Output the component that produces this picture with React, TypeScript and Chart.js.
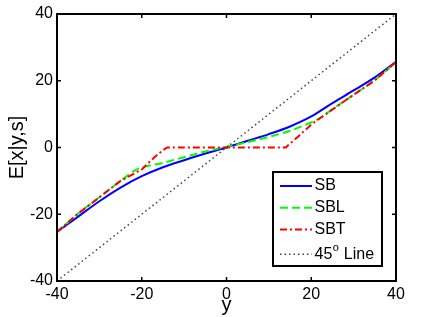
import { useEffect, useRef } from 'react';
import { Chart, registerables } from 'chart.js';

Chart.register(...registerables);

const FONT = "'Liberation Sans', Arial, Helvetica, sans-serif";

// ---- data ----
const axisTicks = [-40, -20, 0, 20, 40];
const xTickLabels = ['-40', '-20', '0', '20', '40'];
const yTickLabels = ['-40', '-20', '0', '20', '40'];
const xTitle = 'y';
const yTitle = 'E[x|y,s]';

const seriesLabels = ['SB', 'SBL', 'SBT', '45^o Line'];

const sbX = [-40, -35, -30, -25, -20, -15, -10, -5, 0, 5, 10, 15, 20, 25, 30, 35, 40];
const sbY = [-25.3, -20.7, -16.1, -12.0, -8.6, -5.9, -3.8, -1.8, 0, 2.0, 4.0, 6.3, 9.3, 13.3, 17.1, 21.0, 25.7];

const sblX = [-40, -35, -30, -25, -21, -15, -10, -5, 0, 5, 10, 15, 19, 22, 25, 30, 35, 40];
const sblY = [-25.3, -19.8, -14.9, -10.0, -6.5, -4.6, -2.9, -1.2, 0.2, 1.6, 3.2, 5.0, 7.0, 8.8, 11.5, 15.8, 20.2, 25.6];

const sbtX = [-40, -35, -30, -25, -20, -17, -15, -14, 14, 15, 17, 20, 25, 30, 35, 40];
const sbtY = [-25.3, -19.8, -14.9, -10.0, -6.6, -2.9, -0.8, 0, 0, 1.2, 3.4, 6.9, 11.4, 15.8, 20.1, 25.6];

const diagX = [-40, 40];
const diagY = [-40, 40];

const toPts = (xs: number[], ys: number[]) => xs.map((x, i) => ({ x, y: ys[i] }));

const tickLabel = (labels: string[]) => (v: any) => {
  const i = axisTicks.indexOf(Number(v));
  return i >= 0 ? labels[i] : '';
};

const framePlugin = {
  id: 'matlabFrame',
  afterDatasetsDraw(chart: any) {
    const { ctx, chartArea: a, scales } = chart;
    ctx.save();
    ctx.strokeStyle = '#000';
    ctx.setLineDash([]);
    // inward ticks
    ctx.lineWidth = 1.5;
    const tl = 4;
    ctx.beginPath();
    for (const t of scales.x.ticks) {
      const px = scales.x.getPixelForValue(t.value);
      ctx.moveTo(px, a.bottom);
      ctx.lineTo(px, a.bottom - tl);
      ctx.moveTo(px, a.top);
      ctx.lineTo(px, a.top + tl);
    }
    for (const t of scales.y.ticks) {
      const py = scales.y.getPixelForValue(t.value);
      ctx.moveTo(a.left, py);
      ctx.lineTo(a.left + tl, py);
      ctx.moveTo(a.right, py);
      ctx.lineTo(a.right - tl, py);
    }
    ctx.stroke();
    // box
    ctx.lineWidth = 2;
    ctx.strokeRect(a.left, a.top, a.right - a.left, a.bottom - a.top);

    // legend
    const fontMain = `16px ${FONT}`;
    const fontSup = `11px ${FONT}`;
    const parsed = chart.data.datasets.map((ds: any) => {
      const m = /^(.*)\^(\w)(.*)$/.exec(ds.label);
      return m ? { pre: m[1], sup: m[2], post: m[3] } : { pre: ds.label, sup: '', post: '' };
    });
    const widthOf = (p: any) => {
      ctx.font = fontMain;
      let w = ctx.measureText(p.pre).width + ctx.measureText(p.post).width;
      if (p.sup) {
        ctx.font = fontSup;
        w += ctx.measureText(p.sup).width + 1;
      }
      return w;
    };
    const textW = Math.max(...parsed.map(widthOf));
    const padL = 7, sample = 32, gap = 2.5, padR = 8;
    const boxW = Math.round(padL + sample + gap + textW + padR);
    const centers: number[] = [];
    let c = 14;
    parsed.forEach((p: any, i: number) => {
      if (i > 0) c += 21.7 + (p.sup ? 3.1 : 0);
      centers.push(c);
    });
    const boxH = Math.round(c + 11.8);
    const right = Math.round(a.right - 14);
    const bottom = Math.round(a.bottom - 15);
    const left = right - boxW;
    const top = bottom - boxH;
    ctx.fillStyle = '#fff';
    ctx.fillRect(left, top, boxW, boxH);
    ctx.lineWidth = 2;
    ctx.strokeStyle = '#000';
    ctx.strokeRect(left, top, boxW, boxH);

    chart.data.datasets.forEach((ds: any, i: number) => {
      const cy = top + centers[i];
      ctx.save();
      ctx.strokeStyle = ds.borderColor;
      ctx.lineWidth = ds.borderWidth;
      ctx.setLineDash(ds.borderDash || []);
      ctx.beginPath();
      ctx.moveTo(left + padL, cy);
      ctx.lineTo(left + padL + sample, cy);
      ctx.stroke();
      ctx.restore();
      const p = parsed[i];
      let tx = left + padL + sample + gap;
      ctx.fillStyle = '#000';
      ctx.textBaseline = 'middle';
      ctx.textAlign = 'left';
      ctx.font = fontMain;
      ctx.fillText(p.pre, tx, cy);
      tx += ctx.measureText(p.pre).width;
      if (p.sup) {
        ctx.font = fontSup;
        ctx.fillText(p.sup, tx + 0.5, cy - 6);
        tx += ctx.measureText(p.sup).width + 1;
        ctx.font = fontMain;
      }
      ctx.fillText(p.post, tx, cy);
    });
    ctx.restore();
  },
};

export default function App() {
  const ref = useRef<HTMLCanvasElement | null>(null);

  useEffect(() => {
    if (!ref.current) return;
    Chart.defaults.font.family = FONT;
    Chart.defaults.color = '#000';
    const chart = new Chart(ref.current, {
      type: 'line',
      data: {
        datasets: [
          {
            label: seriesLabels[0],
            data: toPts(sbX, sbY),
            borderColor: '#0000ff',
            borderWidth: 2,
            borderDash: [],
            pointRadius: 0,
            cubicInterpolationMode: 'monotone',
            order: 4,
          },
          {
            label: seriesLabels[1],
            data: toPts(sblX, sblY),
            borderColor: '#00ff00',
            borderWidth: 2,
            borderDash: [8, 4],
            pointRadius: 0,
            cubicInterpolationMode: 'monotone',
            order: 3,
          },
          {
            label: seriesLabels[2],
            data: toPts(sbtX, sbtY),
            borderColor: '#ff0000',
            borderWidth: 2,
            borderDash: [7, 3, 2, 3],
            pointRadius: 0,
            tension: 0,
            order: 2,
          },
          {
            label: seriesLabels[3],
            data: toPts(diagX, diagY),
            borderColor: '#444444',
            borderWidth: 1.5,
            borderDash: [1.5, 3],
            pointRadius: 0,
            tension: 0,
            order: 1,
          },
        ] as any,
      },
      options: {
        responsive: false,
        animation: false,
        events: [],
        layout: { padding: { left: 0, right: 40, top: 14, bottom: 0 } },
        plugins: {
          legend: { display: false },
          tooltip: { enabled: false },
        },
        scales: {
          x: {
            type: 'linear',
            min: -40,
            max: 40,
            afterFit: (s: any) => {
              s.height = 36;
            },
            grid: { display: false, drawTicks: false },
            border: { display: false },
            ticks: {
              stepSize: 20,
              padding: 4,
              maxRotation: 0,
              autoSkip: false,
              color: '#000',
              font: { size: 16 },
              callback: tickLabel(xTickLabels),
            },
            title: {
              display: true,
              text: xTitle,
              color: '#000',
              font: { size: 20, lineHeight: 1.2 },
              padding: { top: 0, bottom: 0 },
            },
          },
          y: {
            type: 'linear',
            min: -40,
            max: 40,
            afterFit: (s: any) => {
              s.width = 57;
            },
            grid: { display: false, drawTicks: false },
            border: { display: false },
            ticks: {
              stepSize: 20,
              padding: 4,
              autoSkip: false,
              color: '#000',
              font: { size: 16 },
              callback: tickLabel(yTickLabels),
            },
            title: {
              display: true,
              text: yTitle,
              color: '#000',
              font: { size: 20, lineHeight: 1.2 },
              padding: { top: 5.6, bottom: 0 },
            },
          },
        },
      } as any,
      plugins: [framePlugin],
    });
    return () => chart.destroy();
  }, []);

  return (
    <div style={{ position: 'absolute', left: 0, top: 0, width: 436, height: 317, background: '#fff' }}>
      <canvas ref={ref} width={436} height={317} style={{ display: 'block' }} />
    </div>
  );
}
